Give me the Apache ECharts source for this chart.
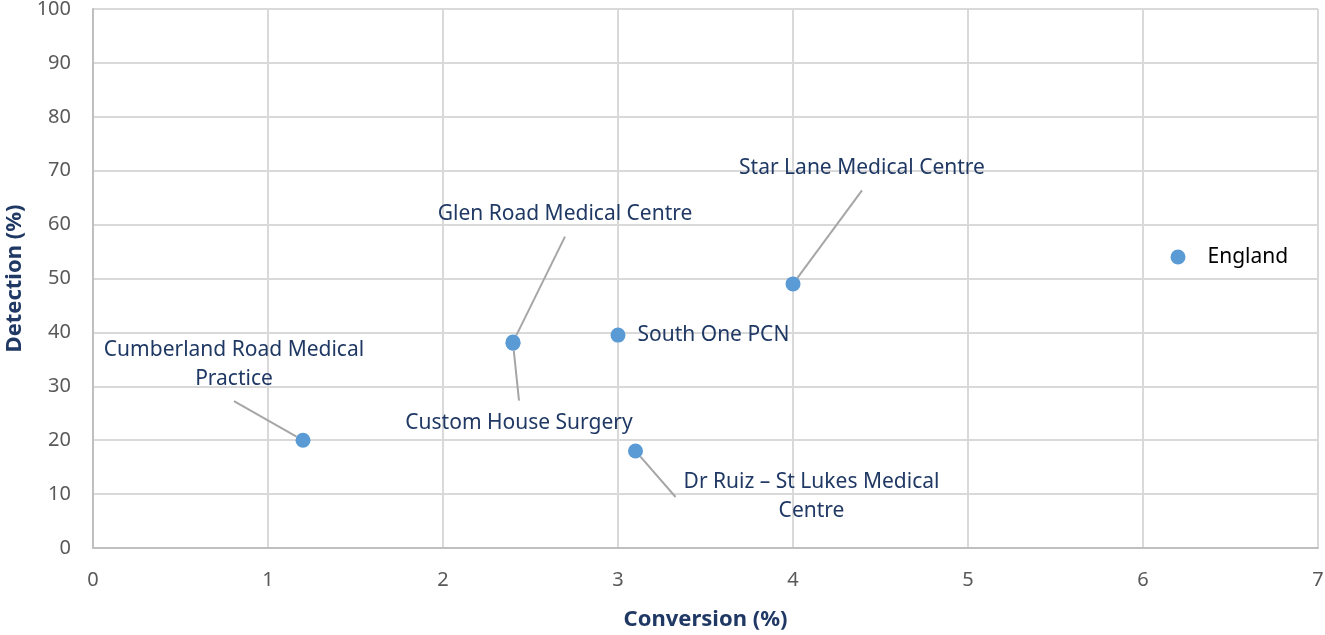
<!DOCTYPE html>
<html>
<head>
<meta charset="utf-8">
<script src="https://cdn.jsdelivr.net/npm/echarts@6/dist/echarts.min.js"></script>
<style>
  html, body { margin: 0; padding: 0; background: #fff; }
  #chart { width: 1325px; height: 635px; }
</style>
</head>
<body>
<div id="chart"></div>
<script>
// practice names and values
const practices = [
  'Cumberland Road Medical\nPractice',
  'Glen Road Medical Centre',
  'Custom House Surgery',
  'South One PCN',
  'Star Lane Medical Centre',
  'Dr Ruiz – St Lukes Medical\nCentre',
  'England'
]
const conversion = [1.2, 2.4, 2.4, 3.0, 4.0, 3.1, 6.2]
const detection = [20, 38.2, 38, 39.5, 49, 18, 54]
const xTicks = [0, 1, 2, 3, 4, 5, 6, 7]
const yTicks = [0, 10, 20, 30, 40, 50, 60, 70, 80, 90, 100]

const font = 'Noto Sans'
const navy = '#1f3864'

// label offsets from the point (px), leader lines drawn by echarts
const labelShift = {
  0: [-69, -76],
  1: [52, -128],
  2: [6, 80],
  4: [69, -116],
  5: [176, 46]
}

const points = practices.map((name, i) => {
  const item = { name: name, value: [conversion[i], detection[i]] }
  if (name === 'South One PCN') {
    item.label = { position: 'right', distance: 4, align: 'left' }
    item.labelLine = { show: false }
  } else if (name === 'England') {
    item.label = { position: 'right', distance: 14, align: 'left', color: '#000' }
    item.labelLine = { show: false }
  }
  return item
})

const chart = echarts.init(document.getElementById('chart'))
chart.setOption({
  animation: false,
  textStyle: { fontFamily: font },
  grid: { left: 93, right: 7, top: 9, bottom: 87, containLabel: false, outerBoundsMode: 'none' },
  xAxis: {
    type: 'value',
    min: xTicks[0],
    max: xTicks[xTicks.length - 1],
    interval: 1,
    name: 'Conversion (%)',
    nameLocation: 'middle',
    nameGap: 61,
    nameTextStyle: { fontFamily: font, fontSize: 22, fontWeight: 'bold', color: navy },
    axisLine: { show: true, lineStyle: { color: '#bfbfbf', width: 2 } },
    axisTick: { show: false },
    axisLabel: { margin: 22, fontSize: 20, color: '#595959', fontFamily: font },
    splitLine: { show: true, lineStyle: { color: '#d9d9d9', width: 2 } }
  },
  yAxis: {
    type: 'value',
    min: yTicks[0],
    max: yTicks[yTicks.length - 1],
    interval: 10,
    name: 'Detection (%)',
    nameLocation: 'middle',
    nameGap: 67,
    nameTextStyle: { fontFamily: font, fontSize: 22, fontWeight: 'bold', color: navy },
    axisLine: { show: true, lineStyle: { color: '#bfbfbf', width: 2 } },
    axisTick: { show: false },
    axisLabel: { margin: 22, fontSize: 20, color: '#595959', fontFamily: font },
    splitLine: { show: true, lineStyle: { color: '#d9d9d9', width: 2 } }
  },
  series: [
    {
      type: 'scatter',
      symbolSize: 15,
      itemStyle: { color: '#5b9bd5', opacity: 1 },
      data: points,
      label: {
        show: true,
        position: 'inside',
        formatter: '{b}',
        fontFamily: font,
        fontSize: 21,
        color: navy,
        align: 'center',
        lineHeight: 29,
        padding: [8, 8]
      },
      labelLine: {
        show: true,
        lineStyle: { color: '#a6a6a6', width: 2 }
      },
      labelLayout: function (params) {
        const s = labelShift[params.dataIndex]
        if (!s) return {}
        return { dx: s[0], dy: s[1] }
      }
    }
  ]
})
window.addEventListener('resize', () => {
  chart.resize()
})
</script>
</body>
</html>
